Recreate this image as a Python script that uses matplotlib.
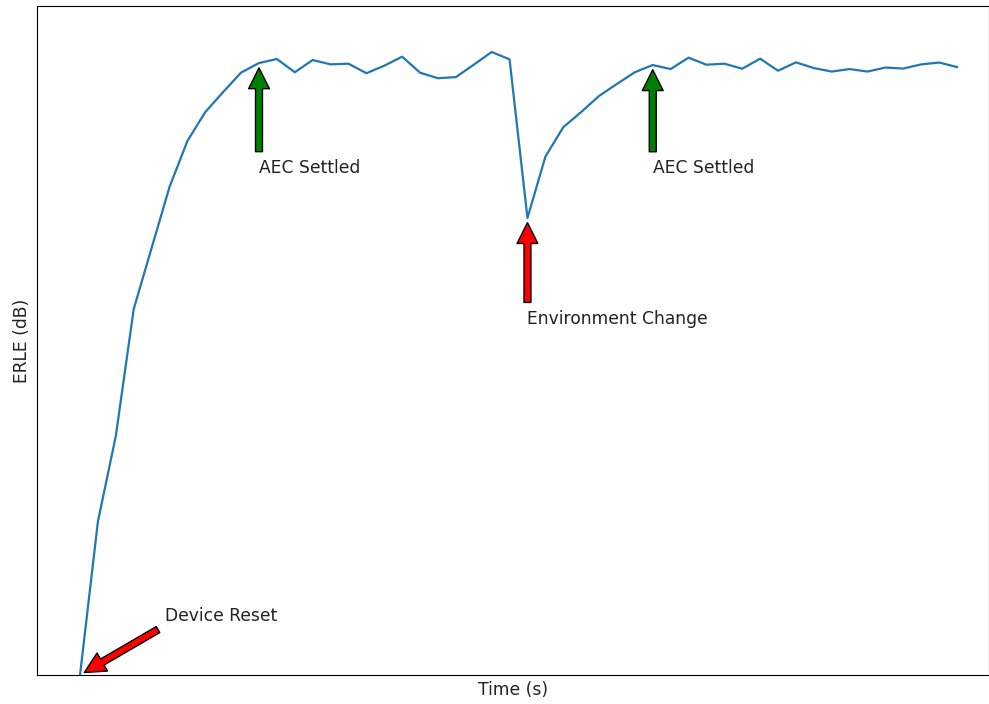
import numpy as np
import matplotlib
matplotlib.use("Agg")
import matplotlib.pyplot as plt

plt.rcParams["font.size"] = 12.3

# ERLE over time, one sample per second
time_s = np.arange(50)
erle_db = [
    0.00, 9.18, 14.29, 21.88, 25.53, 29.18, 31.93, 33.66, 34.86, 36.02,
    36.59, 36.83, 36.04, 36.77, 36.51, 36.55, 35.98, 36.43, 36.97, 36.01,
    35.68, 35.75, 36.49, 37.25, 36.81, 27.32, 30.99, 32.75, 33.66, 34.62,
    35.34, 36.04, 36.47, 36.23, 36.91, 36.49, 36.55, 36.25, 36.85, 36.13,
    36.63, 36.29, 36.08, 36.23, 36.08, 36.32, 36.26, 36.51, 36.62, 36.35,
]

# events: (label, sample index, text position, arrow colour)
events = [
    ("Device Reset", 0, (4.75, 3.2), "red"),
    ("AEC Settled", 10, (10, 30), "green"),
    ("Environment Change", 25, (25, 21), "red"),
    ("AEC Settled", 32, (32, 30), "green"),
]

fig = plt.figure(figsize=(9.89, 7.04), dpi=100)
ax = fig.add_axes([37 / 989, 29 / 704, 951.5 / 989, 669 / 704])

ax.plot(time_s, erle_db, color="#1f77b4", linewidth=1.6)

for label, idx, text_pos, colour in events:
    ax.annotate(label, xy=(time_s[idx], erle_db[idx]), xytext=text_pos,
                color="#222222",
                arrowprops=dict(facecolor=colour, shrink=0.05, width=5,
                                headwidth=15, headlength=15))

ax.set_xlim(-2.404, 50.76)
ax.set_ylim(0, 40)
ax.set_xticks([])
ax.set_yticks([])
ax.set_xlabel("Time (s)", color="#222222")
ax.set_ylabel("ERLE (dB)", color="#222222")

fig.savefig("out.png", dpi=100)
